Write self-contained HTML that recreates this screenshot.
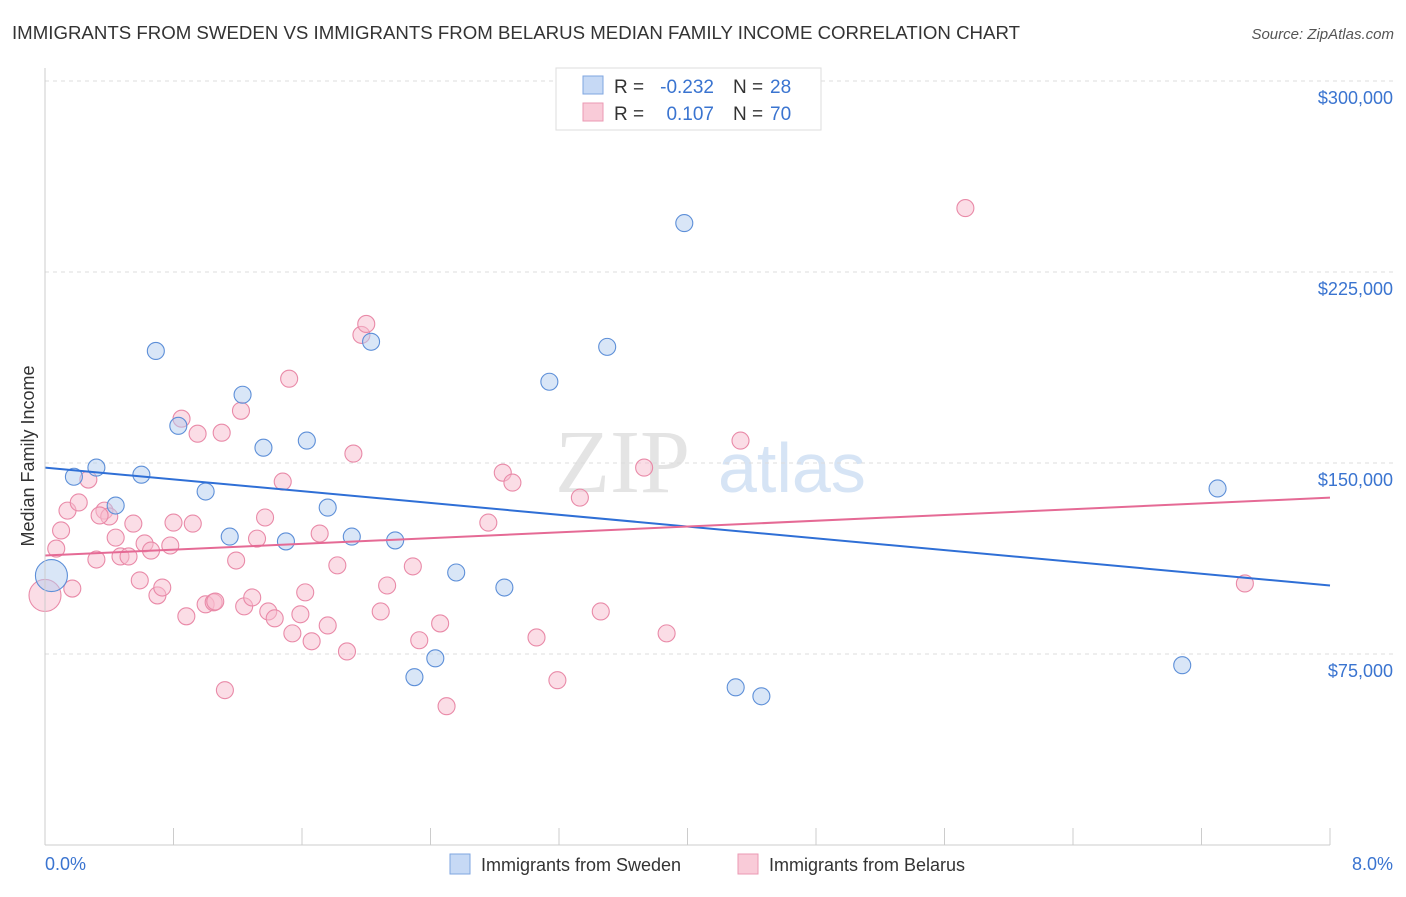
<!DOCTYPE html>
<html><head><meta charset="utf-8"><style>
body{margin:0;background:#fff;font-family:"Liberation Sans",sans-serif;}
#wrap{position:relative;width:1406px;height:892px;}
</style></head><body>
<div id="wrap">
<svg id="svg" width="1406" height="892" xmlns="http://www.w3.org/2000/svg">
<text x="12" y="39" font-size="18" fill="#333" textLength="1008" lengthAdjust="spacingAndGlyphs">IMMIGRANTS FROM SWEDEN VS IMMIGRANTS FROM BELARUS MEDIAN FAMILY INCOME CORRELATION CHART</text>
<text x="1394" y="39" font-size="15" fill="#555" text-anchor="end" font-style="italic">Source: ZipAtlas.com</text>
<text x="34" y="456" font-size="18" fill="#333" text-anchor="middle" transform="rotate(-90 34 456)">Median Family Income</text>
<text x="555" y="492" font-size="90" fill="#e4e4e4" font-family="Liberation Serif,serif">ZIP</text>
<text x="718" y="492" font-size="70" fill="#d6e4f5">atlas</text>
<g id="grid"></g><g id="marks"></g>
<line x1="45" y1="68" x2="45" y2="845" stroke="#ccc"/>
<line x1="45" y1="845" x2="1330" y2="845" stroke="#ccc"/>
<text x="45" y="870" font-size="18" fill="#3a74d0">0.0%</text>
<text x="1393" y="870" font-size="18" fill="#3a74d0" text-anchor="end">8.0%</text>
<g>
<rect x="556" y="68" width="265" height="62" fill="#fff" stroke="#ddd"/>
<rect x="583" y="76" width="20" height="18" fill="#c6d9f5" stroke="#7fa6e0"/>
<rect x="583" y="103" width="20" height="18" fill="#f9cbd8" stroke="#eb9ab3"/>
<text x="614" y="93" font-size="19" fill="#333">R =</text>
<text x="714" y="93" font-size="19" fill="#3a74d0" text-anchor="end">-0.232</text>
<text x="733" y="93" font-size="19" fill="#333">N =</text>
<text x="770" y="93" font-size="19" fill="#3a74d0">28</text>
<text x="614" y="120" font-size="19" fill="#333">R =</text>
<text x="714" y="120" font-size="19" fill="#3a74d0" text-anchor="end">0.107</text>
<text x="733" y="120" font-size="19" fill="#333">N =</text>
<text x="770" y="120" font-size="19" fill="#3a74d0">70</text>
</g>
<g>
<rect x="450" y="854" width="20" height="20" fill="#c6d9f5" stroke="#7fa6e0"/>
<text x="481" y="871" font-size="18" fill="#333">Immigrants from Sweden</text>
<rect x="738" y="854" width="20" height="20" fill="#f9cbd8" stroke="#eb9ab3"/>
<text x="769" y="871" font-size="18" fill="#333">Immigrants from Belarus</text>
</g>
</svg></div>
<script>
const yTicks=[75,150,225,300];
const yTickLabels=["$75,000","$150,000","$225,000","$300,000"];
const swedenX=[0.04,0.18,0.32,0.44,0.60,0.69,0.83,1.00,1.15,1.23,1.36,1.50,1.63,1.76,1.91,2.03,2.18,2.56,2.30,2.43,2.86,3.14,3.50,3.98,4.30,4.46,7.08,7.30];
const swedenY=[105.8,144.6,148.2,133.3,145.4,194.0,164.6,138.8,121.1,176.8,156.0,119.2,158.8,132.5,121.1,197.6,119.6,107.0,65.9,73.3,101.1,181.9,195.6,244.2,61.9,58.4,70.6,140.0];
const belarusX=[0.00,0.07,0.10,0.14,0.17,0.21,0.27,0.32,0.37,0.40,0.44,0.47,0.52,0.55,0.59,0.62,0.66,0.70,0.73,0.78,0.80,0.85,0.88,0.92,0.95,1.00,1.05,1.06,1.10,1.12,1.19,1.22,1.24,1.29,1.32,1.37,1.39,1.43,1.48,1.52,1.54,1.59,1.62,1.66,1.71,1.76,1.82,1.88,1.92,1.97,2.00,2.09,2.13,2.29,2.33,2.46,2.50,2.76,2.85,2.91,3.06,3.19,3.33,3.46,3.73,3.87,4.33,5.73,7.47,0.34];
const belarusY=[98.0,116.4,123.5,131.3,100.7,134.5,143.5,112.1,131.3,129.0,120.7,113.3,113.3,126.2,103.9,118.4,115.6,98.0,101.1,117.6,126.6,167.4,89.8,126.2,161.5,94.5,95.3,95.6,161.9,60.8,111.7,170.5,93.7,97.2,120.3,128.6,91.7,89.0,142.7,183.1,83.1,90.6,99.2,80.0,122.3,86.2,109.8,76.0,153.7,200.3,204.6,91.7,101.9,109.4,80.4,87.0,54.5,126.6,146.2,142.3,81.5,64.7,136.4,91.7,148.2,83.1,158.8,250.1,102.7,129.4];
const swedenTrend=[148.2,101.9];
const belarusTrend=[113.7,136.4];
const sx=v=>45+v*(1330-45)/8;
const sy=v=>845-v*(845-654)/75;
const NS="http://www.w3.org/2000/svg";
const grid=document.getElementById('grid'),marks=document.getElementById('marks');
function mk(tag,attrs,parent){const e=document.createElementNS(NS,tag);for(const k in attrs)e.setAttribute(k,attrs[k]);parent.appendChild(e);return e;}
yTicks.forEach((t,i)=>{
 const l=mk('line',{x1:45,x2:1393,y1:sy(t),y2:sy(t),stroke:'#ddd','stroke-dasharray':'4,4'},grid);
 
 
 const tx=mk('text',{x:1393,y:sy(t)+23,'font-size':18,fill:'#3a74d0','text-anchor':'end'},grid);
 tx.textContent=yTickLabels[i];
 
 
});
for(let i=0;i<=10;i++){const x=45+i*128.5;const l=mk('line',{x1:x,x2:x,y1:828,y2:845,stroke:'#ccc'},grid);
 
 }
function pts(X,Y,fill,stroke,name,big){X.forEach((x,i)=>{
 const r=(i===0&&big)?16:8.5;
 const c=mk('circle',{cx:sx(x),cy:sy(Y[i]),r:r,fill:fill,'fill-opacity':0.5,stroke:stroke,'stroke-width':1.1},marks);
 
 
});}
pts(belarusX,belarusY,'#f7bccd','#e98aa8','belarus-point',true);
pts(swedenX,swedenY,'#b4cdf0','#5d8fd8','sweden-point',true);
const t1=mk('line',{x1:sx(0),y1:sy(swedenTrend[0]),x2:sx(8),y2:sy(swedenTrend[1]),stroke:'#2f6fd6','stroke-width':2},marks);


const t2=mk('line',{x1:sx(0),y1:sy(belarusTrend[0]),x2:sx(8),y2:sy(belarusTrend[1]),stroke:'#e56a95','stroke-width':2},marks);


</script>
</body></html>
